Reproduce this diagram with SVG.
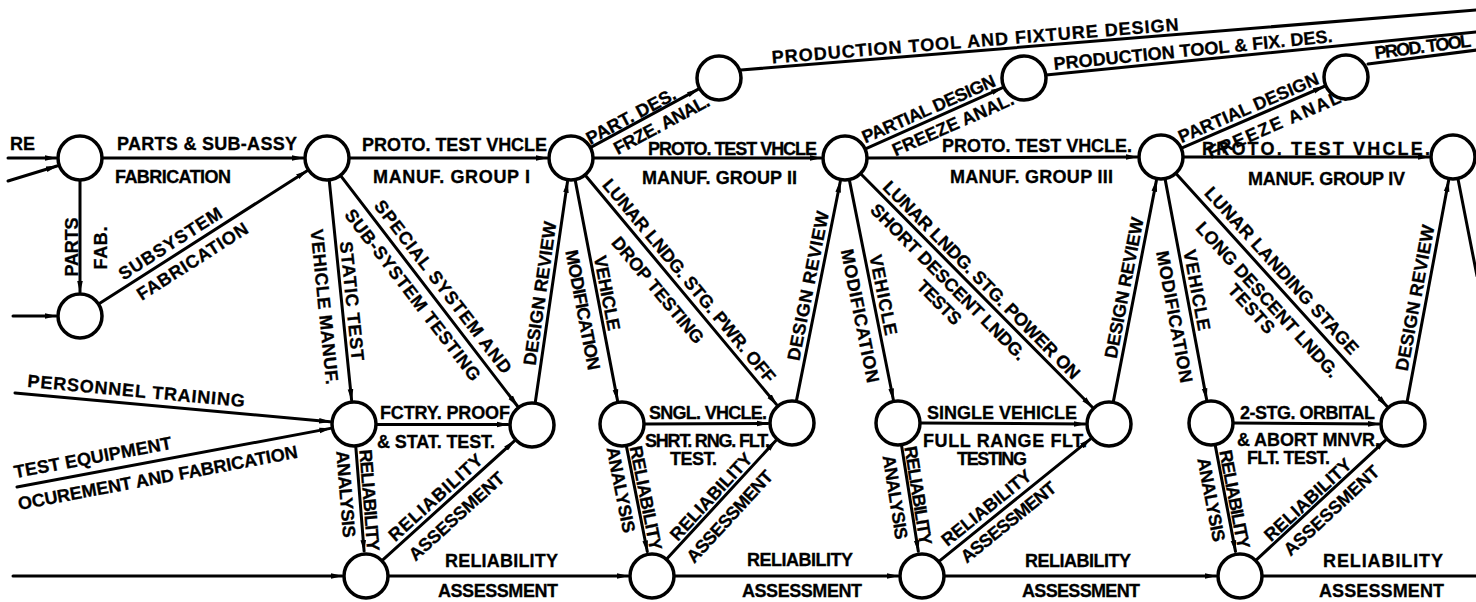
<svg xmlns="http://www.w3.org/2000/svg" width="1476" height="602" viewBox="0 0 1476 602">
<defs>
<style>
.ln{stroke:#000;stroke-width:3;fill:none;stroke-linecap:round}
.a{marker-end:url(#ar)}
.nd{fill:#fff;stroke:#000;stroke-width:3.5}
text{font-family:"Liberation Sans",Arial,sans-serif;font-weight:bold;font-size:18px;fill:#000;stroke:#000;stroke-width:0.3}
.m{text-anchor:middle}
</style>
<marker id="ar" markerWidth="12" markerHeight="8" refX="11" refY="4" orient="auto" markerUnits="userSpaceOnUse"><path d="M0,1.2 L12,4 L0,6.8 z" fill="#000"/></marker>
</defs>
<rect width="1476" height="602" fill="#fff"/>
<g id="connectors">
<line class="ln a" x1="8" y1="158" x2="56" y2="158"/>
<line class="ln a" x1="8" y1="181" x2="57" y2="166"/>
<line class="ln a" x1="13" y1="316" x2="56" y2="316"/>
<line class="ln a" x1="103" y1="158" x2="303" y2="158"/>
<line class="ln a" x1="80" y1="181" x2="80" y2="292"/>
<line class="ln a" x1="99.4" y1="303.6" x2="306.8" y2="170.9"/>
<line class="ln a" x1="350" y1="158" x2="547" y2="158"/>
<line class="ln a" x1="329.3" y1="180.9" x2="351.6" y2="400.1"/>
<line class="ln a" x1="341" y1="176.2" x2="517.4" y2="406"/>
<line class="ln a" x1="377" y1="424.5" x2="508" y2="424.5"/>
<line class="ln a" x1="535.3" y1="402.2" x2="567.5" y2="181.8"/>
<line class="ln a" x1="575.3" y1="180.6" x2="617.5" y2="400.4"/>
<line class="ln a" x1="585.7" y1="175.7" x2="776.6" y2="404.6"/>
<line class="ln a" x1="594" y1="158" x2="821" y2="158"/>
<line class="ln a" x1="591.2" y1="147.1" x2="697.9" y2="89.4"/>
<line class="ln a" x1="645" y1="424" x2="768" y2="423.5"/>
<line class="ln a" x1="796.5" y1="400.4" x2="840.3" y2="181.5"/>
<line class="ln a" x1="849.5" y1="180.6" x2="893.3" y2="399.5"/>
<line class="ln a" x1="861.2" y1="174.3" x2="1092.1" y2="407"/>
<line class="ln a" x1="866" y1="148.6" x2="1002.1" y2="87.8"/>
<line class="ln a" x1="868" y1="158" x2="1137" y2="157"/>
<line class="ln a" x1="921" y1="423" x2="1085" y2="424"/>
<line class="ln a" x1="1113.4" y1="401.4" x2="1156.4" y2="180.6"/>
<line class="ln a" x1="1165.2" y1="179.6" x2="1206.6" y2="399.4"/>
<line class="ln a" x1="1176.4" y1="174" x2="1386.9" y2="406.2"/>
<line class="ln a" x1="1182.1" y1="147.9" x2="1324" y2="86.5"/>
<line class="ln a" x1="1184" y1="157" x2="1429" y2="157"/>
<line class="ln a" x1="1234" y1="423" x2="1379" y2="424"/>
<line class="ln a" x1="1407.2" y1="401.4" x2="1448.6" y2="180.6"/>
<line class="ln" x1="1458" y1="179" x2="1477" y2="276"/>
<line class="ln a" x1="355.8" y1="446.9" x2="364.1" y2="551.1"/>
<line class="ln a" x1="383.1" y1="559.6" x2="514.2" y2="441.1"/>
<line class="ln a" x1="13" y1="576" x2="342" y2="576"/>
<line class="ln a" x1="389" y1="576" x2="628" y2="576"/>
<line class="ln a" x1="626.5" y1="446.6" x2="647.3" y2="551.5"/>
<line class="ln a" x1="667.6" y1="558.1" x2="775.7" y2="440.7"/>
<line class="ln a" x1="675" y1="576" x2="898" y2="576"/>
<line class="ln a" x1="901.6" y1="445.7" x2="918.3" y2="551.3"/>
<line class="ln a" x1="939.9" y1="560.6" x2="1090.3" y2="439.1"/>
<line class="ln a" x1="945" y1="576" x2="1216" y2="576"/>
<line class="ln a" x1="1215.3" y1="445.6" x2="1235.5" y2="551.4"/>
<line class="ln a" x1="1256.9" y1="559.4" x2="1385.4" y2="440.3"/>
<line class="ln" x1="1263" y1="576" x2="1477" y2="576"/>
<line class="ln a" x1="15" y1="393" x2="330.1" y2="421.8"/>
<line class="ln a" x1="17" y1="487" x2="330.4" y2="428.4"/>
<line class="ln" x1="741" y1="70" x2="1477" y2="10"/>
<line class="ln" x1="1046" y1="75" x2="1477" y2="32"/>
<line class="ln" x1="1368" y1="64" x2="1477" y2="50"/>
</g>
<g id="labels">
<text x="10" y="150">RE</text>
<text x="117" y="150" textLength="180">PARTS &amp; SUB-ASSY</text>
<text x="115" y="183" textLength="116">FABRICATION</text>
<text class="m" transform="translate(78,247) rotate(-90)" textLength="59">PARTS</text>
<text class="m" transform="translate(107,248) rotate(-90)" textLength="43">FAB.</text>
<g transform="translate(181,251) rotate(-32.6)"><text class="m" x="-5" y="-6" textLength="119">SUBSYSTEM</text><text class="m" x="4" y="21" textLength="128">FABRICATION</text></g>
<text x="362" y="151" textLength="185">PROTO. TEST VHCLE</text>
<text x="373" y="183" textLength="157">MANUF.  GROUP I</text>
<g transform="translate(342,303) rotate(84.2)"><text class="m" x="-1" y="-4" textLength="120">STATIC TEST</text><text class="m" x="2" y="24" textLength="156">VEHICLE MANUF.</text></g>
<g transform="translate(429,290) rotate(52.5)"><text class="m" x="6" y="-7" textLength="213">SPECIAL SYSTEM AND</text><text class="m" x="-6" y="22" textLength="211">SUB-SYSTEM TESTING</text></g>
<text x="380" y="419" textLength="130">FCTRY. PROOF</text>
<text x="377" y="448" textLength="118">&amp; STAT. TEST.</text>
<text class="m" transform="translate(551,295) rotate(-81.7)" y="-5" textLength="145">DESIGN REVIEW</text>
<g transform="translate(598,300) rotate(79.1)"><text class="m" x="-5" y="-4" textLength="76">VEHICLE</text><text class="m" x="7" y="23" textLength="122">MODIFICATION</text></g>
<g transform="translate(676,284) rotate(50.2)"><text class="m" x="6" y="-6" textLength="259">LUNAR LNDG. STG. PWR. OFF</text><text class="m" x="-7" y="24" textLength="133">DROP TESTING</text></g>
<g transform="translate(645,119) rotate(-28.2)"><text class="m" x="-11" y="-3" textLength="99">PART. DES.</text><text class="m" x="12" y="19" textLength="106">FRZE. ANAL.</text></g>
<text x="648" y="155" textLength="169">PROTO. TEST VHCLE</text>
<text x="642" y="184" textLength="155">MANUF. GROUP II</text>
<text x="649" y="419" textLength="118">SNGL. VHCLE.</text>
<text x="645" y="447" textLength="125">SHRT. RNG. FLT.</text>
<text x="670" y="465" textLength="47">TEST.</text>
<text class="m" transform="translate(819,288) rotate(-78.7)" y="-5" textLength="152">DESIGN REVIEW</text>
<g transform="translate(874,305) rotate(78.7)"><text class="m" x="-8" y="-5" textLength="82">VEHICLE</text><text class="m" x="8" y="22" textLength="136">MODIFICATION</text></g>
<g transform="translate(966,280) rotate(45.2)"><text class="m" x="11" y="-5" textLength="271">LUNAR LNDG. STG. POWER ON</text><text class="m" x="-11" y="20" textLength="212">SHORT DESCENT LNDG.</text><text class="m" x="-3" y="41" textLength="55">TESTS</text></g>
<g transform="translate(940,115) rotate(-23.8)"><text class="m" x="-8" y="-4" textLength="144">PARTIAL DESIGN</text><text class="m" x="8" y="20" textLength="131">FREEZE ANAL.</text></g>
<text x="942" y="152" textLength="190">PROTO. TEST VHCLE.</text>
<text x="950" y="183" textLength="163">MANUF. GROUP III</text>
<text x="927" y="419" textLength="150">SINGLE VEHICLE</text>
<text x="923" y="447" textLength="164">FULL RANGE FLT.</text>
<text x="957" y="465" textLength="70">TESTING</text>
<text class="m" transform="translate(1135,290) rotate(-79)" y="-5" textLength="143">DESIGN REVIEW</text>
<g transform="translate(1188,303) rotate(79.4)"><text class="m" x="-11" y="-5" textLength="82">VEHICLE</text><text class="m" x="11" y="22" textLength="134">MODIFICATION</text></g>
<g transform="translate(1276,284) rotate(47.8)"><text class="m" x="-6" y="-7" textLength="219">LUNAR LANDING STAGE</text><text class="m" x="6" y="23" textLength="203">LONG DESCENT LNDG.</text><text class="m" x="2" y="41" textLength="60">TESTS</text></g>
<g transform="translate(1262,114) rotate(-23.4)"><text class="m" x="-10" y="-5" textLength="151">PARTIAL DESIGN</text><text class="m" x="10" y="21" textLength="150">FREEZE ANAL.</text></g>
<text x="1202" y="155" textLength="228">PROTO. TEST VHCLE.</text>
<text x="1248" y="185" textLength="157">MANUF. GROUP IV</text>
<text x="1240" y="419" textLength="135">2-STG. ORBITAL</text>
<text x="1237" y="446" textLength="143">&amp; ABORT MNVR.</text>
<text x="1247" y="464" textLength="83">FLT. TEST.</text>
<text class="m" transform="translate(1426,300) rotate(-79.4)" y="-5" textLength="148">DESIGN REVIEW</text>
<text class="m" transform="translate(976,51) rotate(-4.67)" y="-4" textLength="408">PRODUCTION TOOL AND FIXTURE DESIGN</text>
<text class="m" transform="translate(1194,60) rotate(-5.7)" y="-4" textLength="280">PRODUCTION TOOL &amp; FIX. DES.</text>
<text transform="translate(1376,63) rotate(-7.4)" y="-4" textLength="97">PROD. TOOL</text>
<g transform="translate(360,497) rotate(85.5)"><text class="m" x="4" y="-3" textLength="102">RELIABILITY</text><text class="m" x="-4" y="20" textLength="87">ANALYSIS</text></g>
<g transform="translate(446,503) rotate(-42.1)"><text class="m" x="-4" y="-5" textLength="120">RELIABILITY</text><text class="m" x="-1" y="23" textLength="122">ASSESSMENT</text></g>
<g transform="translate(636,495) rotate(78.8)"><text class="m" x="5" y="-3" textLength="106">RELIABILITY</text><text class="m" x="-8" y="20" textLength="87">ANALYSIS</text></g>
<g transform="translate(720,502) rotate(-47.4)"><text class="m" x="-2" y="-4" textLength="112">RELIABILITY</text><text class="m" x="-4" y="23" textLength="118">ASSESSMENT</text></g>
<g transform="translate(909,496) rotate(81)"><text class="m" x="1" y="-3" textLength="100">RELIABILITY</text><text class="m" x="-1" y="20" textLength="85">ANALYSIS</text></g>
<g transform="translate(998,514) rotate(-38.9)"><text class="m" x="-5" y="-6" textLength="110">RELIABILITY</text><text class="m" x="3" y="19" textLength="117">ASSESSMENT</text></g>
<g transform="translate(1225,498) rotate(79.2)"><text class="m" x="3" y="-3" textLength="100">RELIABILITY</text><text class="m" x="-1" y="20" textLength="85">ANALYSIS</text></g>
<g transform="translate(1320,501) rotate(-42.8)"><text class="m" x="-8" y="-3" textLength="112">RELIABILITY</text><text class="m" x="2" y="21" textLength="123">ASSESSMENT</text></g>
<text x="445" y="567" textLength="113">RELIABILITY</text>
<text x="438" y="597" textLength="120">ASSESSMENT</text>
<text x="747" y="566" textLength="106">RELIABILITY</text>
<text x="742" y="597" textLength="120">ASSESSMENT</text>
<text x="1025" y="567" textLength="106">RELIABILITY</text>
<text x="1022" y="597" textLength="118">ASSESSMENT</text>
<text x="1323" y="567" textLength="120">RELIABILITY</text>
<text x="1319" y="597" textLength="125">ASSESSMENT</text>
<text class="m" transform="translate(135,404) rotate(5.3)" y="-7" textLength="218">PERSONNEL  TRAINING</text>
<g transform="translate(17,487) rotate(-10.6)"><text x="0" y="-9" textLength="160">TEST EQUIPMENT</text><text x="-2" y="23" textLength="284">OCUREMENT AND FABRICATION</text></g>
</g>
<g id="nA"><circle class="nd" cx="80" cy="158" r="22"/></g>
<g id="nB"><circle class="nd" cx="80" cy="316" r="22"/></g>
<g id="nC"><circle class="nd" cx="327" cy="158" r="22"/></g>
<g id="nD"><circle class="nd" cx="571" cy="158" r="22"/></g>
<g id="nE"><circle class="nd" cx="719" cy="78" r="22"/></g>
<g id="nF"><circle class="nd" cx="845" cy="158" r="22"/></g>
<g id="nG"><circle class="nd" cx="1024" cy="78" r="22"/></g>
<g id="nH"><circle class="nd" cx="1161" cy="157" r="22"/></g>
<g id="nI"><circle class="nd" cx="1346" cy="77" r="22"/></g>
<g id="nJ"><circle class="nd" cx="1453" cy="157" r="22"/></g>
<g id="nK"><circle class="nd" cx="354" cy="424" r="22"/></g>
<g id="nL"><circle class="nd" cx="532" cy="425" r="22"/></g>
<g id="nM"><circle class="nd" cx="622" cy="424" r="22"/></g>
<g id="nN"><circle class="nd" cx="792" cy="423" r="22"/></g>
<g id="nO"><circle class="nd" cx="898" cy="423" r="22"/></g>
<g id="nP"><circle class="nd" cx="1109" cy="424" r="22"/></g>
<g id="nQ"><circle class="nd" cx="1211" cy="423" r="22"/></g>
<g id="nR"><circle class="nd" cx="1403" cy="424" r="22"/></g>
<g id="nS"><circle class="nd" cx="366" cy="576" r="22"/></g>
<g id="nT"><circle class="nd" cx="652" cy="576" r="22"/></g>
<g id="nU"><circle class="nd" cx="922" cy="576" r="22"/></g>
<g id="nV"><circle class="nd" cx="1240" cy="576" r="22"/></g>
</svg>
